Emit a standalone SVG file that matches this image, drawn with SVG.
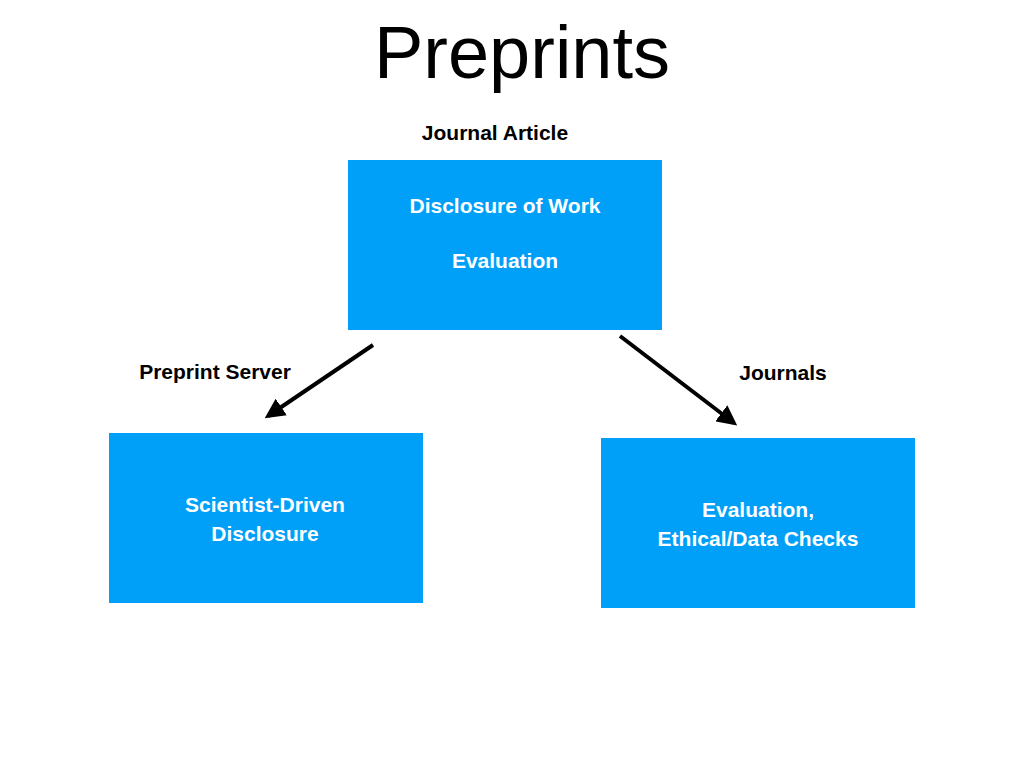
<svg xmlns="http://www.w3.org/2000/svg" width="1024" height="768" viewBox="0 0 1024 768">
<style>
.box{fill:#00a0f8}
.w{fill:#fff;font-family:"Liberation Sans",Arial,sans-serif;font-weight:bold;font-size:21px;text-anchor:middle}
.b{fill:#000;font-family:"Liberation Sans",Arial,sans-serif;font-weight:bold;font-size:21px;text-anchor:middle}
.c{stroke:#000;stroke-width:4;marker-end:url(#ah)}
</style>
<defs><marker id="ah" markerWidth="5" markerHeight="5" refX="4" refY="2.5" orient="auto"><path d="M0,0L5,2.5L0,5z" fill="#000"/></marker></defs>
<rect width="1024" height="768" fill="#fff"/>
<text x="522" y="78" font-family="Liberation Sans,Arial,sans-serif" font-size="74" text-anchor="middle">Preprints</text>
<text class="b" x="495" y="140">Journal Article</text>
<g id="top"><rect class="box" x="348" y="160" width="314" height="170"/>
<text class="w" x="505" y="213">Disclosure of Work</text><text class="w" x="505" y="268">Evaluation</text></g>
<g id="left"><rect class="box" x="109" y="433" width="314" height="170"/>
<text class="w" x="265" y="512">Scientist-Driven</text><text class="w" x="265" y="541">Disclosure</text></g>
<g id="right"><rect class="box" x="601" y="438" width="314" height="170"/>
<text class="w" x="758" y="517">Evaluation,</text><text class="w" x="758" y="546">Ethical/Data Checks</text></g>
<g id="connectors">
<line class="c" x1="373" y1="345" x2="268" y2="416"/>
<line class="c" x1="620" y1="336" x2="734" y2="423"/>
</g>
<text class="b" x="215" y="379">Preprint Server</text>
<text class="b" x="783" y="380">Journals</text>
</svg>
